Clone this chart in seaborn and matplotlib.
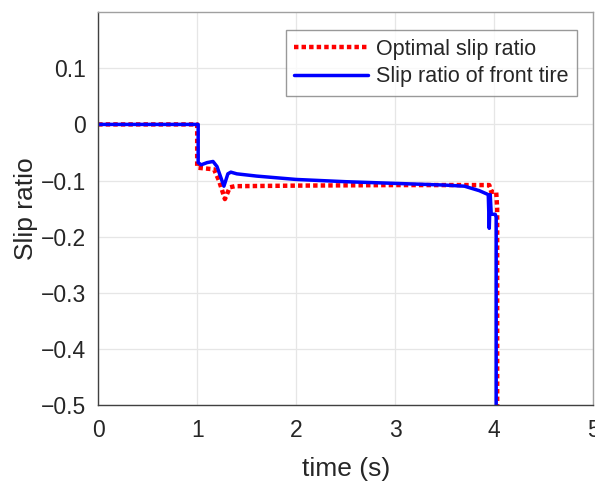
import matplotlib
matplotlib.use("Agg")
import matplotlib.pyplot as plt
import seaborn as sns
import pandas as pd

# Optimal slip ratio (red dotted)
t_opt = [0.0, 1.0, 1.0, 1.17, 1.22, 1.28, 1.33, 1.38, 2.0, 3.0, 3.95, 3.97, 4.02, 4.03, 4.03]
s_opt = [0.0, 0.0, -0.077, -0.08, -0.10, -0.133, -0.112, -0.11, -0.109, -0.108, -0.108, -0.12, -0.12, -0.15, -0.5]

# Slip ratio of front tire (blue solid)
t_front = [0.0, 1.01, 1.01, 1.04, 1.1, 1.16, 1.2, 1.27, 1.31, 1.34, 1.4, 1.6, 2.0, 2.5, 3.0, 3.5, 3.7, 3.85, 3.94, 3.95, 3.96, 3.97, 4.01, 4.02, 4.02]
s_front = [0.0, 0.0, -0.068, -0.072, -0.068, -0.066, -0.075, -0.11, -0.088, -0.085, -0.088, -0.092, -0.098, -0.102, -0.105, -0.108, -0.11, -0.118, -0.125, -0.185, -0.125, -0.16, -0.16, -0.165, -0.5]

x_ticks = [0, 1, 2, 3, 4, 5]
y_ticks = [-0.5, -0.4, -0.3, -0.2, -0.1, 0, 0.1]
y_tick_labels = ["\u22120.5", "\u22120.4", "\u22120.3", "\u22120.2", "\u22120.1", "0", "0.1"]

df_opt = pd.DataFrame({"t": t_opt, "s": s_opt})
df_front = pd.DataFrame({"t": t_front, "s": s_front})

sns.set_style("white")
plt.rcParams["font.family"] = ["Liberation Sans", "DejaVu Sans"]

fig = plt.figure(figsize=(5.95, 4.83), dpi=100)
ax = fig.add_axes([0.165, 0.161, 0.832, 0.814])

sns.lineplot(data=df_opt, x="t", y="s", ax=ax, estimator=None, sort=False,
             color="#ff0000", linestyle=(0, (1, 0.7)), linewidth=3.2, label="Optimal slip ratio")
sns.lineplot(data=df_front, x="t", y="s", ax=ax, estimator=None, sort=False,
             color="#0000ff", linestyle="-", linewidth=2.5, label="Slip ratio of front tire")

ax.set_xlim(0, 5)
ax.set_ylim(-0.5, 0.2)
ax.set_xticks(x_ticks)
ax.set_yticks(y_ticks)
ax.set_yticklabels(y_tick_labels)
ax.tick_params(axis="both", labelsize=16.5, colors="#262626", direction="in", length=4)
ax.tick_params(axis="x", pad=10)
ax.tick_params(axis="y", pad=9)
ax.grid(True, color="#e6e6e6", linewidth=0.9)
ax.set_axisbelow(True)
for side in ["left", "bottom"]:
    ax.spines[side].set_color("#404040")
    ax.spines[side].set_linewidth(1.0)
for side in ["top", "right"]:
    ax.spines[side].set_color("#a0a0a0")
    ax.spines[side].set_linewidth(1.0)

ax.set_xlabel("time (s)", fontsize=19, color="#262626", labelpad=11)
ax.set_ylabel("Slip ratio", fontsize=19, color="#262626", labelpad=2)

leg = ax.legend(loc="upper right", bbox_to_anchor=(0.968, 0.954), borderaxespad=0,
                fontsize=15.5, frameon=True, fancybox=False, handlelength=3.4,
                handletextpad=0.4, borderpad=0.4, labelspacing=0.3)
leg.get_frame().set_edgecolor("#808080")
leg.get_frame().set_linewidth(1.0)

fig.savefig("out.png", dpi=100)
